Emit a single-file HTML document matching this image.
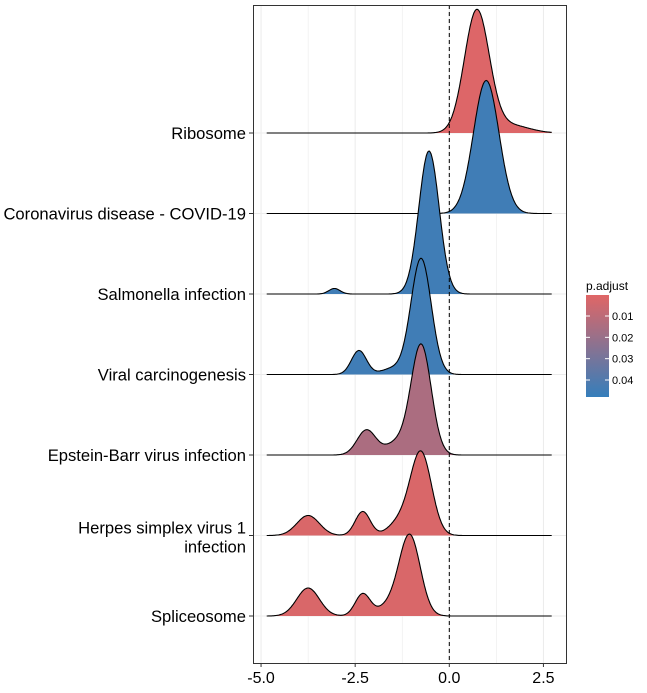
<!DOCTYPE html>
<html><head><meta charset="utf-8">
<style>
body{margin:0;background:#fff;}
svg{display:block;font-family:"Liberation Sans",Arial,sans-serif;}
</style></head>
<body>
<svg id="chart" width="647" height="693" viewBox="0 0 647 693">
<defs>
<linearGradient id="pg" x1="0" y1="0" x2="0" y2="1">
<stop offset="0" stop-color="#e06666"/>
<stop offset="1" stop-color="#357ebb"/>
</linearGradient>
</defs>
<rect x="253" y="5" width="313" height="658" fill="#fff" stroke="none"/>
<g id="grid"></g>
<g id="ridges"></g>
<line x1="449.3" y1="5" x2="449.3" y2="663" stroke="#000" stroke-width="1" stroke-dasharray="4,3"/>
<rect x="253.5" y="5.5" width="313" height="658" fill="none" stroke="#333" stroke-width="1"/>
<g id="axes"></g>
<g>
<text x="586" y="290" font-size="12" fill="#000">p.adjust</text>
<rect x="586" y="295" width="23" height="102" fill="url(#pg)"/>
<g id="legendticks"></g>
</g>
</svg>
<script>
const categories = ["Ribosome","Coronavirus disease - COVID-19","Salmonella infection","Viral carcinogenesis","Epstein-Barr virus infection","Herpes simplex virus 1\ninfection","Spliceosome"];
// density components per ridge: [center, sd, peak height]
const components = [
 [[0.73,0.33,1.22],[1.6,0.5,0.08]],
 [[0.98,0.34,1.33]],
 [[-0.54,0.27,1.43],[-3.05,0.15,0.055]],
 [[-0.75,0.27,1.16],[-2.4,0.2,0.24],[-1.5,0.3,0.06]],
 [[-0.75,0.27,1.1],[-2.2,0.25,0.25],[-1.4,0.3,0.12]],
 [[-0.75,0.28,0.82],[-1.3,0.3,0.14],[-2.3,0.2,0.24],[-3.75,0.3,0.2]],
 [[-1.05,0.28,0.8],[-1.6,0.3,0.1],[-2.3,0.2,0.22],[-3.75,0.3,0.28]]
];
const padjust = [0.001,0.045,0.045,0.045,0.015,0.002,0.002];
const xTicks = [-5.0,-2.5,0.0,2.5];
const xTickLabels = ["-5.0","-2.5","0.0","2.5"];
const legendTicks = [0.01,0.02,0.03,0.04];
const xMin=-4.85, xMax=2.72;

const NS="http://www.w3.org/2000/svg";
function X(v){return 449.3+v*37.65;}
function baseY(i){return 133+i*80.5;}
function H(d){return d*100;}
function LY(v){return 316+(v-0.01)/0.03*64;}
function mk(t,a,p){const e=document.createElementNS(NS,t);for(const k in a)e.setAttribute(k,a[k]);p.appendChild(e);return e;}
function col(p){const t=Math.min(1,Math.max(0,(LY(p)-295)/102));
 const a=[224,102,102],b=[53,126,187];
 return "rgb("+a.map((v,i)=>Math.round(v+(b[i]-v)*t)).join(",")+")";}

const grid=document.getElementById("grid");
for(let v=-5;v<=2.5;v+=1.25){
 const g=mk("line",{x1:X(v),x2:X(v),y1:5,y2:663,stroke:"#ebebeb","stroke-width":(Math.abs(v/2.5-Math.round(v/2.5))<1e-6)?1:0.6},grid);
 
 
}
categories.forEach((c,i)=>{
 const g=mk("line",{x1:253,x2:566,y1:baseY(i),y2:baseY(i),stroke:"#ebebeb","stroke-width":1},grid);
 
 
});

const rg=document.getElementById("ridges");
categories.forEach((c,i)=>{
 const b=baseY(i);let pts=[];
 const N=300;
 for(let k=0;k<=N;k++){const v=xMin+(xMax-xMin)*k/N;let d=0;
  components[i].forEach(([m,s,h])=>{d+=h*Math.exp(-0.5*((v-m)/s)**2);});
  pts.push([X(v),b-H(d)]);}
 const line="M"+pts.map(p=>p[0].toFixed(1)+","+p[1].toFixed(1)).join("L");
 const area=mk("path",{d:line+"L"+X(xMax)+","+b+"L"+X(xMin)+","+b+"Z",fill:col(padjust[i]),stroke:"none"},rg);
 
 
 const ol=mk("path",{d:line,fill:"none",stroke:"#000","stroke-width":1.1},rg);
 
 
});

const ax=document.getElementById("axes");
xTicks.forEach((v,i)=>{
 const t=mk("line",{x1:X(v),x2:X(v),y1:663,y2:667,stroke:"#333"},ax);
 
 
 const l=mk("text",{x:X(v),y:683,"font-size":16,"text-anchor":"middle",fill:"#000"},ax);
 l.textContent=xTickLabels[i];
 
 
});
categories.forEach((c,i)=>{
 const b=baseY(i);
 const t=mk("line",{x1:249,x2:253,y1:b,y2:b,stroke:"#333"},ax);
 
 
 const lines=c.split("\n");
 const l=mk("text",{x:246,"font-size":16.6,"text-anchor":"end",fill:"#000"},ax);
 lines.forEach((s,j)=>{const ts=mk("tspan",{x:246,y:(lines.length>1?b-2+j*19:b+6)},l);ts.textContent=s;});
 
 
});
const lt=document.getElementById("legendticks");
legendTicks.forEach(v=>{
 const y=LY(v);
 const a=mk("line",{x1:586,x2:590,y1:y,y2:y,stroke:"#fff"},lt);
 
 
 const b2=mk("line",{x1:605,x2:609,y1:y,y2:y,stroke:"#fff"},lt);
 
 
 const t=mk("text",{x:612,y:y+4,"font-size":11,fill:"#000"},lt);
 t.textContent=v.toFixed(2);
 
 
});
</script>
</body></html>
